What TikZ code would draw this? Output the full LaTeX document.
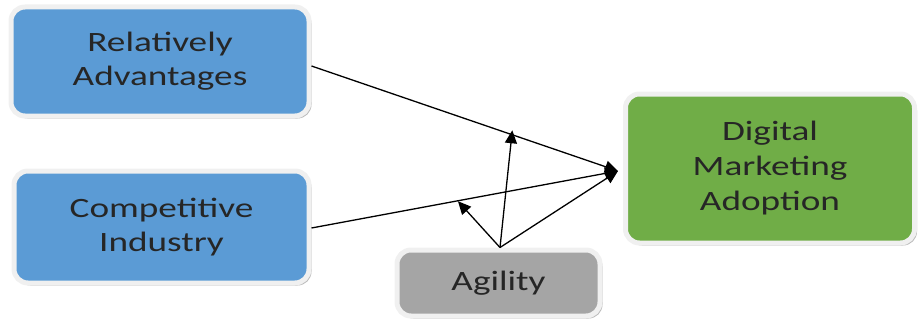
\documentclass[tikz,border=0pt]{standalone}
\usepackage{fontspec}
\setmainfont{Carlito}
\usetikzlibrary{shadows,arrows.meta}
\newcommand\wide[1]{\scalebox{1.33}[1]{#1}}
\definecolor{boxblue}{HTML}{5B9BD5}
\definecolor{boxgreen}{HTML}{70AD47}
\definecolor{boxgray}{HTML}{A5A5A5}
\definecolor{rim}{HTML}{F0F0F0}
\begin{document}
\begin{tikzpicture}[x=1pt,y=-1pt,
  box/.style={draw=rim, line width=5pt, rounded corners=14pt, align=center,
    inner sep=0pt, text=black!85,
    font=\fontsize{28}{34}\selectfont,
    drop shadow={opacity=0.45, shadow xshift=2.5pt, shadow yshift=-2.5pt, fill=black!60}},
  conn/.style={draw=black, line width=1.3pt},
  tip/.style={-{Triangle[length=13pt,width=12pt]}}
]
\useasboundingbox (0,0) rectangle (918,321);
\node[box, fill=boxblue, minimum width=298pt, minimum height=109pt] (ra) at (160,61.5)
  {\wide{Relatively}\\\wide{Advantages}};
\node[box, fill=boxblue, minimum width=295pt, minimum height=112pt] (ci) at (161.5,227)
  {\wide{Competitive}\\\wide{Industry}};
\node[box, fill=boxgray, minimum width=203pt, minimum height=66pt] (ag) at (498.5,283)
  {\wide{Agility}};
\node[box, fill=boxgreen, minimum width=289pt, minimum height=149pt,
  font=\fontsize{28}{35}\selectfont] (dm) at (770,168.5)
  {\wide{Digital}\\\wide{Marketing}\\\wide{Adoption}};
\coordinate (hub) at (618,171);
\coordinate (raS) at (316,66);
\coordinate (ciS) at (316,228);
\coordinate (agS) at (500,246);
\draw[conn, tip] (ra.east |- raS) -- (hub);
\draw[conn, tip] (ci.east |- ciS) -- (hub);
\path (raS) -- (hub) coordinate[pos=0.65] (m1);
\path (ciS) -- (hub) coordinate[pos=0.47] (m2);
\draw[conn, tip] (ag.north -| agS) -- ([yshift=4pt]m1);
\draw[conn, tip] (ag.north -| agS) -- (m2);
\draw[conn, tip] (ag.north -| agS) -- (hub);
\end{tikzpicture}
\end{document}
